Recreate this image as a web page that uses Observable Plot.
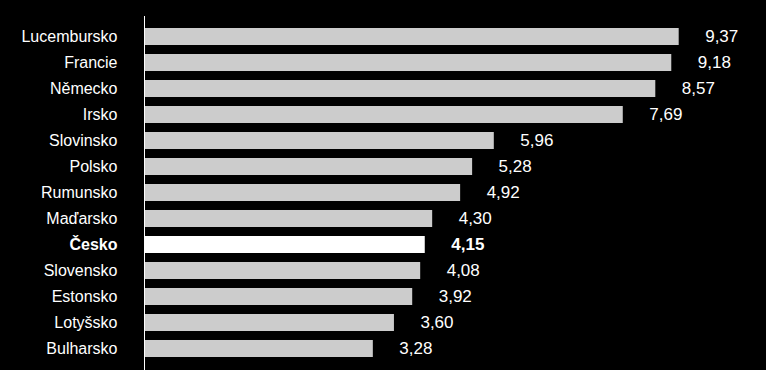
<!DOCTYPE html>
<html>
<head>
<meta charset="utf-8">
<script src="https://cdn.jsdelivr.net/npm/d3@7"></script>
<script src="https://cdn.jsdelivr.net/npm/@observablehq/plot@0.6"></script>
<style>
  html, body { margin: 0; padding: 0; background: #000; }
  #chart svg { display: block; background: #000; }
</style>
</head>
<body>
<div id="chart"></div>
<script>
const countries = ["Lucembursko","Francie","Německo","Irsko","Slovinsko","Polsko","Rumunsko","Maďarsko","Česko","Slovensko","Estonsko","Lotyšsko","Bulharsko"];
// printed values
const values = [9.37, 9.18, 8.57, 7.69, 5.96, 5.28, 4.92, 4.30, 4.15, 4.08, 3.92, 3.60, 3.28];
// bar lengths as drawn in the picture (same units, estimated from the bars)
const barLengths = [9.37, 9.24, 8.96, 8.39, 6.13, 5.75, 5.54, 5.05, 4.92, 4.84, 4.70, 4.38, 4.01];
const highlight = "Česko";

const data = countries.map((c, i) => ({country: c, value: values[i], bar: barLengths[i], hi: c === highlight}));
const normal = data.filter(d => !d.hi);
const bold = data.filter(d => d.hi);
const fmt = v => v.toFixed(2).replace(".", ",");

const chart = Plot.plot({
  width: 766,
  height: 370,
  marginLeft: 144,
  marginRight: 0,
  marginTop: 16,
  marginBottom: 0,
  style: {background: "#000", fontFamily: "'Liberation Sans', Arial, sans-serif"},
  x: {domain: [0, 10.9], axis: null},
  y: {domain: countries, paddingInner: 0.346, paddingOuter: 0, round: false, axis: null, insetTop: 12, insetBottom: 13},
  marks: [
    Plot.barX(normal, {y: "country", x: "bar", fill: "#cccccc"}),
    Plot.barX(bold, {y: "country", x: "bar", fill: "#ffffff"}),
    Plot.ruleX([0], {stroke: "#ffffff", strokeWidth: 1}),
    Plot.text(normal, {y: "country", x: 0, text: "country", textAnchor: "end", dx: -27, fill: "#ffffff", fontSize: 16}),
    Plot.text(bold, {y: "country", x: 0, text: "country", textAnchor: "end", dx: -27, fill: "#ffffff", fontSize: 16, fontWeight: "bold"}),
    Plot.text(normal, {y: "country", x: "bar", text: d => fmt(d.value), textAnchor: "start", dx: 26, fill: "#ffffff", fontSize: 17}),
    Plot.text(bold, {y: "country", x: "bar", text: d => fmt(d.value), textAnchor: "start", dx: 26, fill: "#ffffff", fontSize: 17, fontWeight: "bold"})
  ]
});
document.getElementById("chart").appendChild(chart);
</script>
</body>
</html>
